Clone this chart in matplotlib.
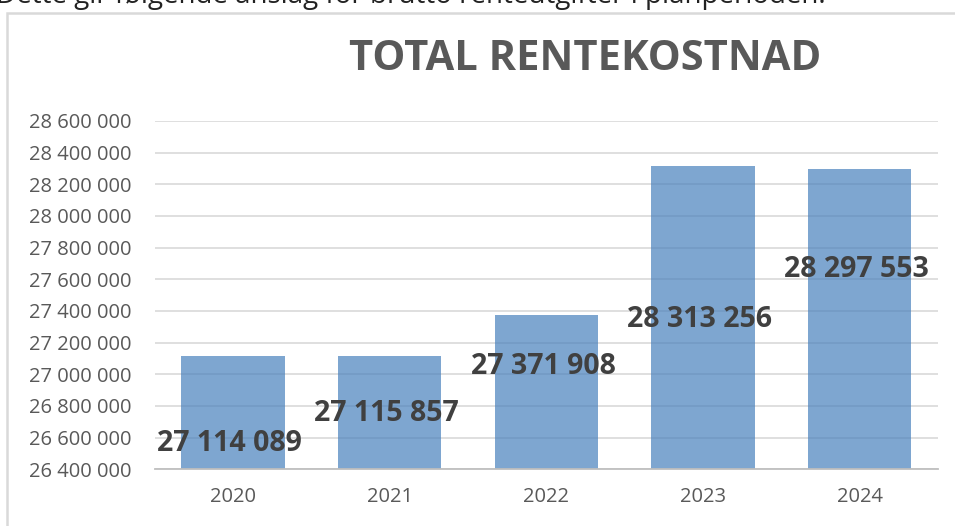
import matplotlib
matplotlib.use("Agg")
from matplotlib import pyplot as plt
from matplotlib.ticker import FuncFormatter
from matplotlib.patches import Rectangle

# data
years = ["2020", "2021", "2022", "2023", "2024"]
values = [27114089, 27115857, 27371908, 28313256, 28297553]

# where Excel left the data labels (value units)
label_y = [26565000, 26754000, 27046000, 27343000, 27659000]

plt.rcParams["font.family"] = ["Open Sans", "DejaVu Sans"]
grey = "#595959"

fig = plt.figure(figsize=(9.55, 5.26), dpi=100)
ax = fig.add_axes([0.162, 0.108, 0.82, 0.662])

x = list(range(len(years)))
ax.bar(x, values, 0.66, color="#4880bc", alpha=0.7, zorder=2)

ax.set_ylim(26400000, 28600000)
ax.set_xlim(-0.5, len(years) - 0.5)
ax.set_yticks(range(26400000, 28600001, 200000))
ax.yaxis.set_major_formatter(
    FuncFormatter(lambda v, p: "{:,.0f}".format(v).replace(",", " "))
)
ax.set_xticks(x)
ax.set_xticklabels(years)
ax.grid(axis="y", color="#d9d9d9", linewidth=1.2, zorder=1)
ax.set_axisbelow(True)
for s in ["top", "right", "left"]:
    ax.spines[s].set_visible(False)
ax.spines["bottom"].set_color("#bfbfbf")
ax.spines["bottom"].set_linewidth(1.3)
ax.tick_params(axis="both", length=0, colors=grey, labelsize=14.5)
ax.tick_params(axis="y", pad=17)
ax.tick_params(axis="x", pad=13)

for xi, v, ly in zip(x, values, label_y):
    ax.text(xi - 0.02, ly, "{:,}".format(v).replace(",", " "), ha="center",
            va="center", fontsize=20.5, fontweight="bold", color="#404040",
            zorder=3)

fig.text(0.613, 0.886, "TOTAL RENTEKOSTNAD", ha="center", va="center",
         fontsize=30, fontweight="bold", color=grey)

# cropped sentence above the chart
fig.text(-0.004, 0.9952, "Dette gir følgende anslag for brutto renteutgifter i planperioden:",
         ha="left", va="baseline", fontsize=20, color="#222222")

# chart frame
fig.patches.append(Rectangle((0.0075, -0.05), 1.1, 1.026, transform=fig.transFigure,
                             fill=False, edgecolor="#d9d9d9", linewidth=1.8))

fig.savefig("out.png", dpi=100)
